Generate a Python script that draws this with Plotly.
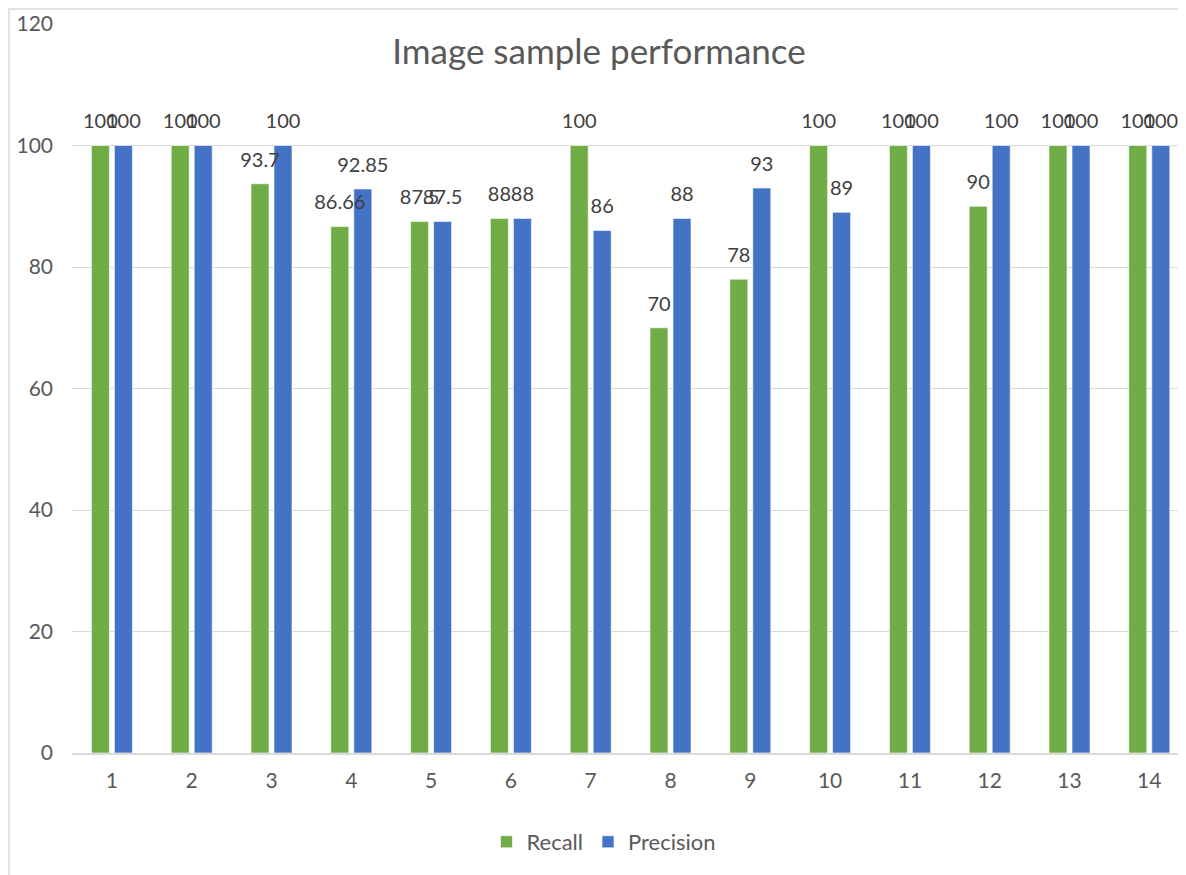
import plotly.graph_objects as go

samples = list(range(1, 15))
recall = [100, 100, 93.7, 86.66, 87.5, 88, 100, 70, 78, 100, 100, 90, 100, 100]
precision = [100, 100, 100, 92.85, 87.5, 88, 86, 88, 93, 89, 100, 100, 100, 100]
series_names = ["Recall", "Precision"]
colors = ["#70AD47", "#4472C4"]
title_text = "Image sample performance"

# page has an 8px body margin, so the figure is 8px smaller than the window
OFF = 8
W, H = 1186 - OFF, 875 - OFF
L, R, T, B = 72 - OFF, 0, 24 - OFF, 875 - 753
pw, ph = W - L - R, H - T - B
cat_px = 79.8
bar_w = 18 / cat_px
gap = 5 / cat_px

FONT = "Lato, Carlito, Calibri, sans-serif"

offsets = [-gap / 2 - bar_w, gap / 2]
fig = go.Figure()
for name, vals, col, off in zip(series_names, [recall, precision], colors, offsets):
    fig.add_trace(go.Bar(
        x=samples, y=vals, name=name,
        marker=dict(color=col, line=dict(color="rgba(255,255,255,0.6)", width=1)),
        width=bar_w, offset=off,
    ))
# data labels drawn above all bars
for name, vals, off in zip(series_names, [recall, precision], offsets):
    fig.add_trace(go.Scatter(
        x=[s + off + bar_w / 2 for s in samples], y=vals,
        mode="markers+text", showlegend=False, hoverinfo="skip",
        marker=dict(size=18, color="rgba(0,0,0,0)"),
        text=[f"{v:g}" for v in vals], textposition="top center",
        textfont=dict(family=FONT, size=20, color="#404040"),
        cliponaxis=False,
    ))

def px_x(px):
    return (px - OFF - L) / pw

def px_y(py):
    return (H - B - (py - OFF)) / ph

fig.add_shape(type="path", xref="paper", yref="paper",
              path=f"M {px_x(9)},{px_y(885)} L {px_x(9)},{px_y(9)} L {px_x(1195)},{px_y(9)}",
              line=dict(color="#D9D9D9", width=1.5))

fig.update_layout(
    width=W, height=H,
    margin=dict(l=L, r=R, t=T, b=B),
    paper_bgcolor="white", plot_bgcolor="white",
    barmode="overlay",
    title=dict(text=title_text, x=(599 - OFF) / W, y=1 - (52 - OFF) / H,
               xref="container", yref="container",
               xanchor="center", yanchor="middle",
               font=dict(family=FONT, size=35, color="#595959")),
    showlegend=True,
    legend=dict(orientation="h", x=px_x(604), y=px_y(842), xanchor="center", yanchor="middle",
                font=dict(family=FONT, size=22, color="#595959"), itemwidth=30,
                traceorder="normal"),
    xaxis=dict(range=[0.5, 0.5 + pw / cat_px], tickmode="array", tickvals=samples,
               ticktext=[str(s) for s in samples], showgrid=False, showline=True,
               linecolor="#D9D9D9", linewidth=2, ticks="", zeroline=False,
               tickfont=dict(family=FONT, size=21, color="#595959"), ticklabelstandoff=8),
    yaxis=dict(range=[0, 120], tickmode="array", tickvals=[0, 20, 40, 60, 80, 100, 120],
               showgrid=True, gridcolor="#D9D9D9", gridwidth=1, zeroline=False,
               showline=False, ticks="",
               tickfont=dict(family=FONT, size=21, color="#595959"), ticklabelstandoff=18),
)

fig.write_html("out.html")
